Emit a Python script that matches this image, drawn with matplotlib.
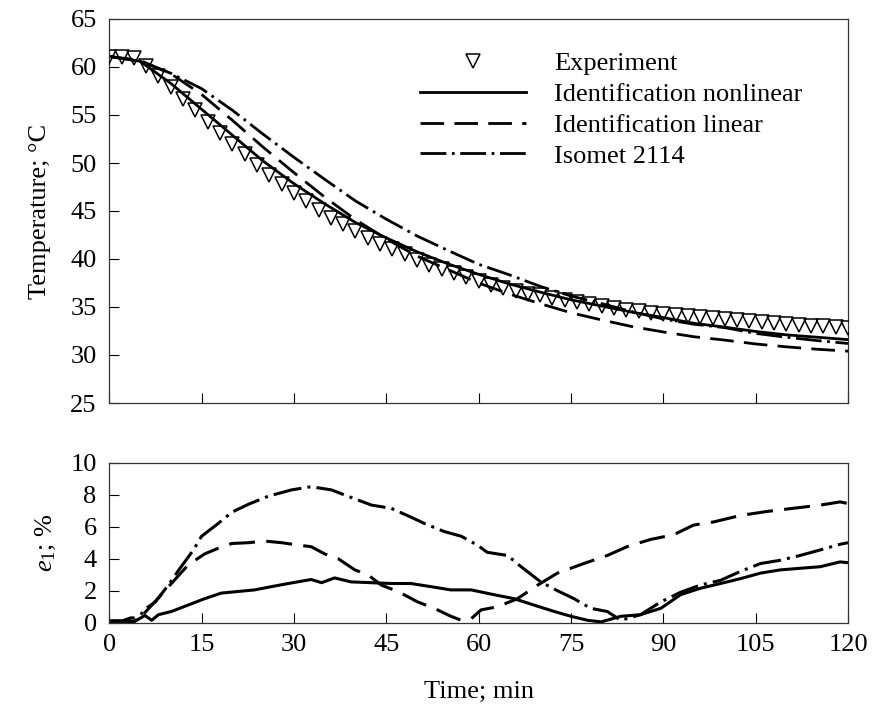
import numpy as np
import matplotlib
matplotlib.use("Agg")
import matplotlib.pyplot as plt

plt.rcParams['font.family'] = ['Liberation Serif', 'DejaVu Serif']
plt.rcParams['mathtext.fontset'] = 'custom'
plt.rcParams['mathtext.rm'] = 'Liberation Serif'
plt.rcParams['mathtext.it'] = 'Liberation Serif:italic'

# ---------------- data ----------------
t_exp = list(range(0, 121, 2))
T_exp = [61.0, 61.0, 60.9, 60.1, 59.1, 57.9, 56.7, 55.5, 54.3, 53.1,
         52.0, 50.9, 49.8, 48.8, 47.8, 46.9, 46.0, 45.1, 44.3, 43.6,
         42.9, 42.2, 41.6, 41.0, 40.5, 39.9, 39.4, 39.0, 38.5, 38.1,
         37.7, 37.3, 37.0, 36.7, 36.4, 36.2, 35.9, 35.7, 35.5, 35.3,
         35.1, 34.9, 34.7, 34.55, 34.4, 34.25, 34.15, 34.05, 33.95, 33.85,
         33.75, 33.65, 33.5, 33.4, 33.3, 33.2, 33.15, 33.05, 33.0, 32.9,
         32.85]

t_mod = list(range(0, 121, 5))
T_nonlin = [61.1, 60.6, 58.3, 55.6, 52.9, 50.2, 47.85, 45.75, 43.8, 42.2,
            40.75, 39.5, 38.4, 37.4, 36.55, 35.75, 35.1, 34.45, 33.9, 33.3,
            32.9, 32.45, 32.1, 31.85, 31.6]
T_lin = [61.1, 60.7, 59.3, 57.15, 54.45, 51.65, 49.0, 46.45, 44.1, 42.1,
         40.3, 38.9, 37.5, 36.35, 35.35, 34.4, 33.65, 32.95, 32.4, 31.9,
         31.55, 31.15, 30.85, 30.6, 30.4]
T_isomet = [61.1, 60.6, 59.35, 57.75, 55.5, 53.0, 50.6, 48.3, 46.05, 44.15,
            42.4, 40.9, 39.45, 38.35, 37.15, 36.15, 35.35, 34.5, 33.75, 33.2,
            32.85, 32.25, 31.85, 31.5, 31.2]

t_e_nonlin = [0, 2, 4, 5.8, 6.9, 8, 10.1, 12.8, 15.5, 18.2, 20.9, 23.6, 26.3, 29.1,
              32.8, 34.5, 36.6, 39.3, 42.6, 45.8, 49, 52.3, 55.5, 58.8, 62.5, 65.8,
              69, 72.3, 75, 77.7, 79.9, 83.1, 86.3, 89.6, 92.8, 96, 99.3,
              102.5, 105.8, 109, 112.2, 115.5, 118.7, 120]
e_nonlin = [0.1, 0.1, 0.05, 0.45, 0.15, 0.5, 0.7, 1.1, 1.5, 1.85, 1.95, 2.05, 2.25, 2.45,
            2.7, 2.5, 2.8, 2.55, 2.5, 2.45, 2.45, 2.25, 2.05, 2.05, 1.75, 1.5,
            1.1, 0.7, 0.4, 0.15, 0.05, 0.4, 0.5, 0.9, 1.75, 2.15, 2.45,
            2.75, 3.1, 3.3, 3.4, 3.5, 3.8, 3.75]

t_e_lin = [0, 2, 3.5, 5, 7.4, 10.1, 12.8, 15.5, 17.7, 19.9, 22.6, 25.3, 28, 30.7,
           32.8, 35, 37.2, 39.9, 42, 44.2, 46.9, 50.1, 52.8, 55.5, 57.2, 58.8,
           60.4, 63.1, 66.3, 69.6, 72.8, 77.1, 80.9, 84.1, 87.9, 91.7, 94.9,
           98.2, 102.5, 106.8, 111.1, 115.5, 118.7, 120]
e_lin = [0.1, 0.1, 0.3, 0.3, 1.3, 2.45, 3.6, 4.3, 4.65, 4.95, 5.0, 5.1, 5.0, 4.85,
         4.75, 4.3, 4.0, 3.3, 3.0, 2.35, 1.95, 1.3, 0.9, 0.4, 0.15, 0.25,
         0.8, 1.0, 1.5, 2.35, 3.1, 3.7, 4.2, 4.75, 5.2, 5.5, 6.1,
         6.3, 6.7, 6.95, 7.15, 7.35, 7.55, 7.45]

t_e_isomet = [0, 2, 4.2, 6, 7.5, 9.6, 11.5, 13.6, 15, 17.7, 19.9, 22.6, 25.8, 29.6,
              32.8, 36.1, 38.8, 42.6, 45.8, 49, 51.2, 54.4, 57.2, 59.8, 61.4,
              64.7, 66.9, 70.1, 72.8, 75.5, 78.2, 80.9, 83.1, 86.3, 89.6, 92.8,
              96, 99.3, 102.5, 105.8, 109, 112.2, 115.5, 118.7, 120]
e_isomet = [0.1, 0.1, 0.1, 0.9, 1.3, 2.35, 3.4, 4.5, 5.4, 6.2, 6.9, 7.4, 7.9, 8.3,
            8.5, 8.3, 7.9, 7.35, 7.15, 6.6, 6.2, 5.7, 5.4, 4.85, 4.4,
            4.2, 3.5, 2.55, 2.0, 1.5, 0.9, 0.7, 0.15, 0.5, 1.3, 1.9,
            2.35, 2.65, 3.2, 3.7, 3.9, 4.2, 4.55, 4.9, 5.0]

labels = ["Experiment", "Identification nonlinear", "Identification linear", "Isomet 2114"]
x_ticks = list(range(0, 121, 15))
y_ticks_top = list(range(25, 66, 5))
y_ticks_bot = list(range(0, 11, 2))

# ---------------- figure ----------------
W, H = 872, 718
fig = plt.figure(figsize=(W / 100, H / 100), dpi=100)
left = 109.2 / W
width = (848 - 109.2) / W
ax1 = fig.add_axes([left, 1 - 403 / H, width, (403 - 19) / H])
ax2 = fig.add_axes([left, 1 - 622.7 / H, width, 160 / H])

FS = 19
dash = (0, (8.5, 3.7))
dashdot = (0, (9.3, 2.0, 1.0, 2.0))
lw = 2.0

ax1.plot(t_exp, T_exp, linestyle='none', marker='v', ms=10, mfc='none',
         mec='black', mew=1.1, label=labels[0], zorder=3)
ax1.plot(t_mod, T_nonlin, color='black', lw=lw, linestyle='-', label=labels[1])
ax1.plot(t_mod, T_lin, color='black', lw=lw, linestyle=dash, label=labels[2])
ax1.plot(t_mod, T_isomet, color='black', lw=lw, linestyle=dashdot, label=labels[3])

ax1.set_xlim(0, 120)
ax1.set_ylim(25, 65)
ax1.set_xticks(x_ticks)
ax1.set_xticklabels([])
ax1.set_yticks(y_ticks_top)
ax1.tick_params(direction='in', length=7, width=0.8, labelsize=FS, top=False, right=False)
ax1.tick_params(axis='y', pad=9)
ax1.set_ylabel("Temperature; °C", fontsize=FS, labelpad=14)

leg = ax1.legend(loc='upper left', bbox_to_anchor=(0.4207, 0.915), frameon=False,
                 fontsize=FS, handlelength=4.03, handletextpad=1.05,
                 labelspacing=0.28, borderpad=0, borderaxespad=0, numpoints=1)

lw2 = 2.2
ax2.plot(t_e_nonlin, e_nonlin, color='black', lw=lw2, linestyle='-')
ax2.plot(t_e_lin, e_lin, color='black', lw=lw2, linestyle=dash)
ax2.plot(t_e_isomet, e_isomet, color='black', lw=lw2, linestyle=dashdot)
ax2.set_xlim(0, 120)
ax2.set_ylim(0, 10)
ax2.set_xticks(x_ticks)
ax2.set_yticks(y_ticks_bot)
ax2.tick_params(direction='in', length=7, width=0.8, labelsize=FS, top=False, right=False)
ax2.tick_params(axis='x', pad=8)
ax2.tick_params(axis='y', pad=9)
ax2.set_ylabel(r"$e_1$; %", fontsize=FS, labelpad=9)
ax2.set_xlabel("Time; min", fontsize=FS, labelpad=18)

for ax in (ax1, ax2):
    for s in ax.spines.values():
        s.set_linewidth(0.9)
        s.set_color('#333333')

fig.savefig("out.png", dpi=100)
